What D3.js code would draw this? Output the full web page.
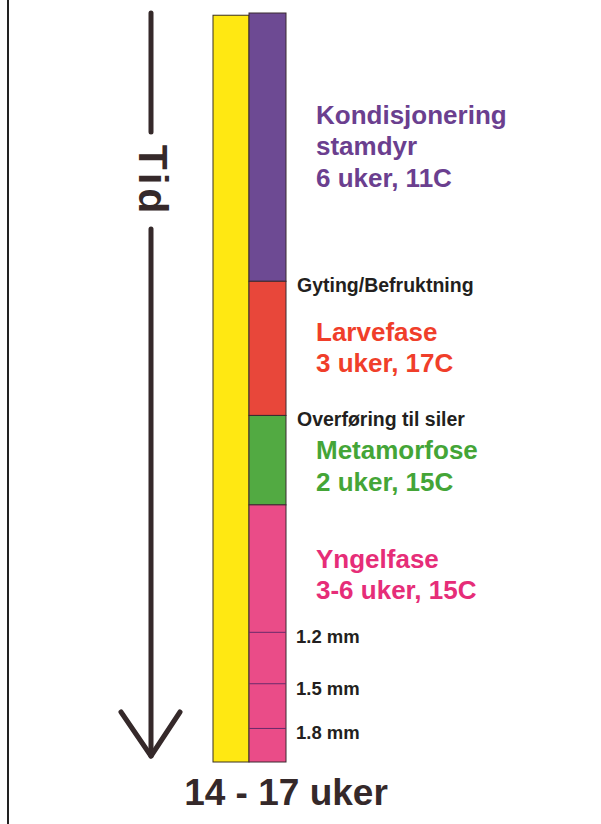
<!DOCTYPE html>
<html>
<head>
<meta charset="utf-8">
<script src="https://cdn.jsdelivr.net/npm/d3@7"></script>
<style>
  html, body { margin: 0; padding: 0; background: #fff; }
  svg { display: block; }
  text { font-family: "Liberation Sans", Arial, sans-serif; font-weight: bold; }
</style>
</head>
<body>
<div class="graph"></div>
<script>
// phases of the production, in weeks as drawn on the bar
const phaseNames = ["Kondisjonering stamdyr", "Larvefase", "Metamorfose", "Yngelfase"];
const phaseWeeks = [6, 3, 2, 5.75];
const phaseLines = [
    ["Kondisjonering", "stamdyr", "6 uker, 11C"],
    ["Larvefase", "3 uker, 17C"],
    ["Metamorfose", "2 uker, 15C"],
    ["Yngelfase", "3-6 uker, 15C"]
];
const phaseColors = ["#6d4a93", "#e8473a", "#52aa42", "#ea4c88"];
const textColors = ["#6b3f8f", "#f03e2a", "#44a537", "#e62d78"];

// events between phases (at end of phase i)
const events = ["Gyting/Befruktning", "Overføring til siler"];

// fry size marks (week, label)
const sizeWeeks = [13.85, 15, 16];
const sizeLabels = ["1.2 mm", "1.5 mm", "1.8 mm"];

const totalLabel = "14 - 17 uker";
const axisLabel = "Tid";

const width = 601, height = 824;

const svg = d3.select(".graph").append("svg")
    .attr("width", width)
    .attr("height", height);

// frame line on the left
svg.append("line")
    .attr("x1", 8).attr("x2", 8)
    .attr("y1", 0).attr("y2", height)
    .attr("stroke", "#222")
    .attr("stroke-width", 2);

const starts = [];
let acc = 0;
phaseWeeks.forEach(w => { starts.push(acc); acc += w; });
const total = acc;

const y = d3.scaleLinear()
    .domain([0, total])
    .range([13, 762]);

const xYellow = 213, xPhase = 249, barW = 37;

// yellow overall bar
svg.append("rect")
    .attr("x", xYellow)
    .attr("y", y(0.05))
    .attr("width", xPhase - xYellow)
    .attr("height", y(total) - y(0.05))
    .attr("fill", "#ffe812")
    .attr("stroke", "#3a3020")
    .attr("stroke-width", 1);

// phase bar
svg.selectAll(".phase")
    .data(phaseWeeks)
    .enter().append("rect")
    .attr("class", "phase")
    .attr("x", xPhase)
    .attr("y", (d, i) => y(starts[i]))
    .attr("width", barW)
    .attr("height", d => y(d) - y(0))
    .attr("fill", (d, i) => phaseColors[i])
    .attr("stroke", "#3a2a30")
    .attr("stroke-width", 1);

// size ticks inside the fry phase
svg.selectAll(".tick")
    .data(sizeWeeks)
    .enter().append("line")
    .attr("x1", xPhase).attr("x2", xPhase + barW)
    .attr("y1", d => y(d)).attr("y2", d => y(d))
    .attr("stroke", "#6a2a6a")
    .attr("stroke-width", 1);

svg.selectAll(".sizeLabel")
    .data(sizeWeeks)
    .enter().append("text")
    .attr("x", 296)
    .attr("y", d => y(d) + 11)
    .attr("font-size", 18.5)
    .attr("fill", "#231f20")
    .text((d, i) => sizeLabels[i]);

// event labels at phase boundaries
svg.selectAll(".event")
    .data(events)
    .enter().append("text")
    .attr("x", 297)
    .attr("y", (d, i) => y(starts[i + 1]) + 11)
    .attr("font-size", 19.5)
    .attr("fill", "#231f20")
    .text(d => d);

// phase labels
const lineH = 31.5;
phaseLines.forEach((lines, i) => {
    let end = i === phaseLines.length - 1 ? sizeWeeks[0] : starts[i] + phaseWeeks[i];
    let c = (y(starts[i]) + y(end)) / 2 + (i >= 2 ? 7 : 0);
    let first = c - (lines.length - 1) * lineH / 2 + 8;
    svg.append("g").selectAll("text")
        .data(lines)
        .enter().append("text")
        .attr("x", 316)
        .attr("y", (d, k) => first + k * lineH)
        .attr("font-size", 26)
        .attr("fill", textColors[i])
        .text(d => d);
});

// time arrow
const ax = 151;
const arrow = svg.append("g")
    .attr("stroke", "#35292a")
    .attr("stroke-width", 5)
    .attr("stroke-linecap", "round")
    .attr("fill", "none");

arrow.append("line")
    .attr("x1", ax).attr("x2", ax)
    .attr("y1", y(0)).attr("y2", 132);

arrow.append("line")
    .attr("x1", ax).attr("x2", ax)
    .attr("y1", 229).attr("y2", y(total) - 6);

arrow.append("path")
    .attr("stroke-linejoin", "round")
    .attr("d", `M${ax - 30},${y(total) - 50} L${ax},${y(total) - 6} L${ax + 29},${y(total) - 50}`);

svg.append("text")
    .attr("transform", `translate(${ax - 12},${181}) rotate(90)`)
    .attr("text-anchor", "middle")
    .attr("font-size", 41)
    .attr("letter-spacing", 4)
    .attr("fill", "#35292a")
    .text(axisLabel);

// total duration
svg.append("text")
    .attr("x", 286)
    .attr("y", 805)
    .attr("text-anchor", "middle")
    .attr("font-size", 37)
    .attr("fill", "#35292a")
    .text(totalLabel);
</script>
</body>
</html>
